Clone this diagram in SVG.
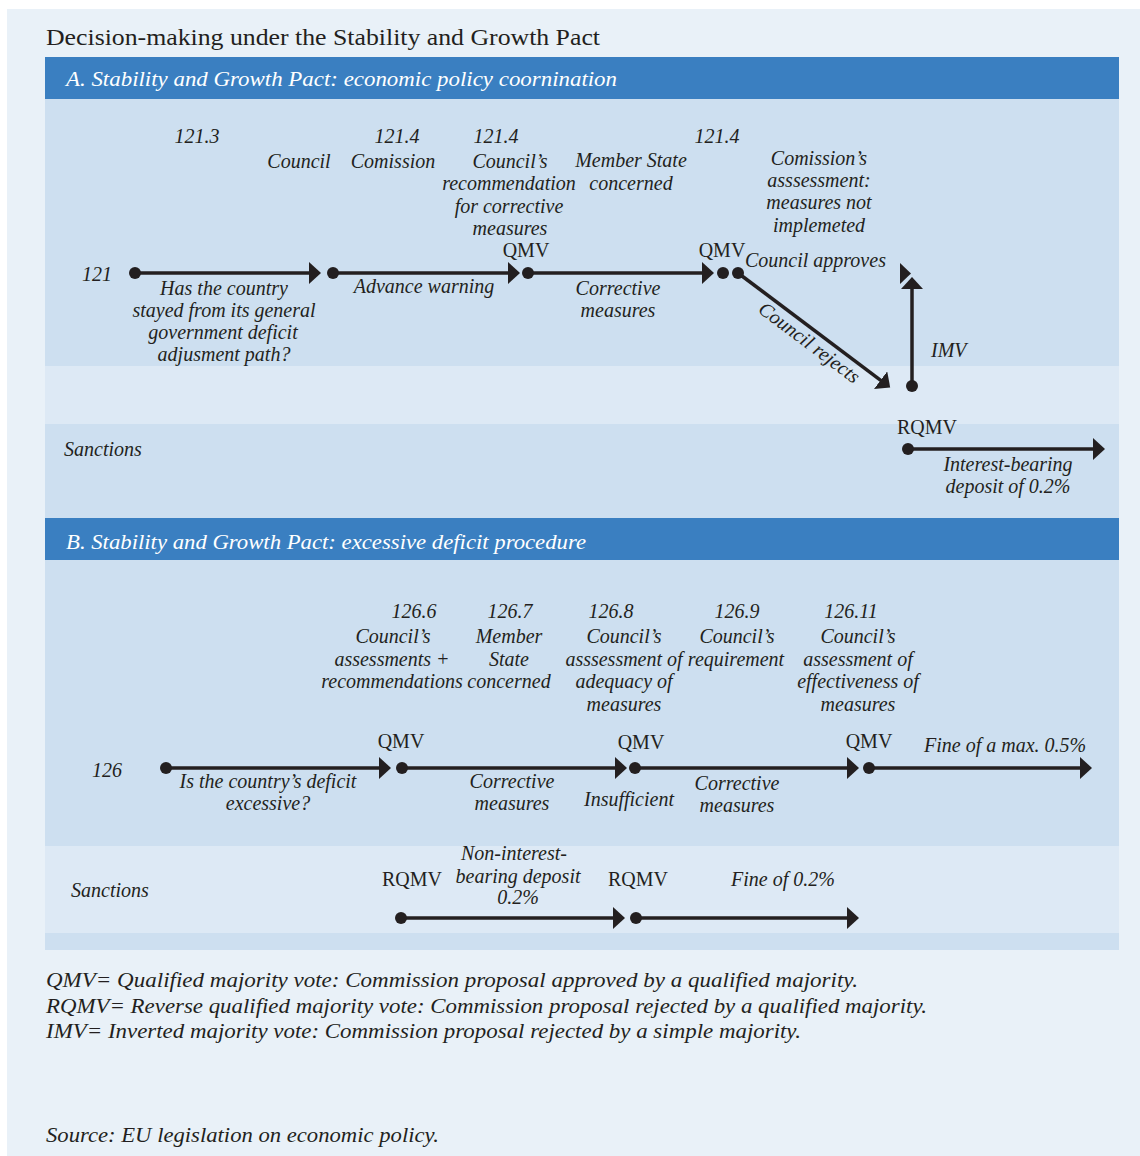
<svg xmlns="http://www.w3.org/2000/svg" width="1140" height="1156" viewBox="0 0 1140 1156">
<defs>
<style>
.t{font-family:"Liberation Serif","Times New Roman",serif;font-style:italic;font-size:20px;fill:#231f20}
.r{font-style:normal}
.m{text-anchor:middle}
.h{font-family:"Liberation Serif","Times New Roman",serif;font-style:italic;font-size:22px;fill:#ffffff}
.ln{stroke:#231f20;stroke-width:3.5;fill:none}
.dot{fill:#231f20}
.bgm{fill:#cddff0}
.bgl{fill:#dde9f5}
.hd{fill:#3a7fc1}
</style>
<marker id="ah" markerUnits="userSpaceOnUse" markerWidth="14" markerHeight="24" refX="1" refY="11" orient="auto">
<path d="M0,0 L12,11 L0,22 Z" fill="#231f20"/>
</marker>
</defs>
<rect x="0" y="0" width="1140" height="1156" fill="#ffffff"/>
<rect x="7" y="9" width="1133" height="1147" fill="#e9f1f8"/>
<text class="t r" x="46" y="45" style="font-size:24px" textLength="554" lengthAdjust="spacingAndGlyphs">Decision-making under the Stability and Growth Pact</text>

<g id="panelA">
<rect class="hd" x="45" y="57" width="1074" height="42"/>
<text class="h" x="66" y="86" textLength="551" lengthAdjust="spacingAndGlyphs">A. Stability and Growth Pact: economic policy coornination</text>
<rect class="bgm" x="45" y="99" width="1074" height="267"/>
<rect class="bgl" x="45" y="366" width="1074" height="58"/>
<rect class="bgm" x="45" y="424" width="1074" height="94"/>
</g>
<g id="panelB">
<rect class="hd" x="45" y="518" width="1074" height="42"/>
<text class="h" x="66" y="549" textLength="520" lengthAdjust="spacingAndGlyphs">B. Stability and Growth Pact: excessive deficit procedure</text>
<rect class="bgm" x="45" y="560" width="1074" height="286"/>
<rect class="bgl" x="45" y="846" width="1074" height="87"/>
<rect class="bgm" x="45" y="933" width="1074" height="17"/>
</g>

<g id="connectors">
<line class="ln" x1="135" y1="273" x2="310" y2="273" marker-end="url(#ah)"/>
<line class="ln" x1="333" y1="273" x2="509" y2="273" marker-end="url(#ah)"/>
<line class="ln" x1="528" y1="273" x2="703" y2="273" marker-end="url(#ah)"/>
<line class="ln" x1="738" y1="273" x2="881.4" y2="380.8" marker-end="url(#ah)"/>
<line class="ln" x1="912" y1="386" x2="912" y2="288" marker-end="url(#ah)"/>
<polygon points="900,263 900,284 911,273.5" fill="#231f20"/>
<line class="ln" x1="908" y1="449" x2="1094" y2="449" marker-end="url(#ah)"/>
<line class="ln" x1="166" y1="768" x2="380" y2="768" marker-end="url(#ah)"/>
<line class="ln" x1="402" y1="768" x2="616" y2="768" marker-end="url(#ah)"/>
<line class="ln" x1="635" y1="768" x2="848" y2="768" marker-end="url(#ah)"/>
<line class="ln" x1="869" y1="768" x2="1081" y2="768" marker-end="url(#ah)"/>
<line class="ln" x1="401" y1="918" x2="614" y2="918" marker-end="url(#ah)"/>
<line class="ln" x1="636" y1="918" x2="848" y2="918" marker-end="url(#ah)"/>
</g>

<g id="a-start">
<text class="t" x="82" y="281">121</text>
<circle class="dot" cx="135" cy="273" r="6"/>
<text class="t m" x="197" y="143">121.3</text>
<text class="t m" x="224" y="295">Has the country</text>
<text class="t m" x="224" y="317">stayed from its general</text>
<text class="t m" x="223" y="339">government deficit</text>
<text class="t m" x="224" y="361">adjusment path?</text>
</g>
<g id="a-council">
<text class="t m" x="299" y="168">Council</text>
</g>
<g id="a-commission">
<circle class="dot" cx="333" cy="273" r="6"/>
<text class="t m" x="397" y="143">121.4</text>
<text class="t m" x="393" y="168">Comission</text>
<text class="t m" x="424" y="293">Advance warning</text>
</g>
<g id="a-recommendation">
<circle class="dot" cx="528" cy="273" r="6"/>
<text class="t m" x="496" y="143">121.4</text>
<text class="t m" x="510" y="168">Council’s</text>
<text class="t m" x="509" y="190">recommendation</text>
<text class="t m" x="509" y="213">for corrective</text>
<text class="t m" x="510" y="235">measures</text>
<text class="t r m" x="526" y="257">QMV</text>
<text class="t m" x="618" y="295">Corrective</text>
<text class="t m" x="618" y="317">measures</text>
</g>
<g id="a-member">
<text class="t m" x="631" y="167">Member State</text>
<text class="t m" x="631" y="190">concerned</text>
</g>
<g id="a-assessment">
<circle class="dot" cx="723" cy="273" r="6"/>
<circle class="dot" cx="738" cy="273" r="6"/>
<text class="t m" x="717" y="143">121.4</text>
<text class="t m" x="819" y="165">Comission’s</text>
<text class="t m" x="819" y="187">asssessment:</text>
<text class="t m" x="819" y="209">measures not</text>
<text class="t m" x="819" y="232">implemeted</text>
<text class="t r m" x="722" y="257">QMV</text>
<text class="t" x="745" y="267">Council approves</text>
<text class="t m" transform="translate(809,343) rotate(37)" x="0" y="6">Council rejects</text>
</g>
<g id="a-imv">
<circle class="dot" cx="912" cy="386" r="6"/>
<text class="t" x="931" y="357">IMV</text>
</g>
<g id="a-sanctions">
<text class="t" x="64" y="456">Sanctions</text>
<circle class="dot" cx="908" cy="449" r="6"/>
<text class="t r" x="897" y="434">RQMV</text>
<text class="t m" x="1008" y="471">Interest-bearing</text>
<text class="t m" x="1008" y="493">deposit of 0.2%</text>
</g>

<g id="b-start">
<text class="t" x="92" y="777">126</text>
<circle class="dot" cx="166" cy="768" r="6"/>
<text class="t m" x="268" y="788">Is the country’s deficit</text>
<text class="t m" x="268" y="810">excessive?</text>
</g>
<g id="b-126-6">
<circle class="dot" cx="402" cy="768" r="6"/>
<text class="t m" x="414" y="618">126.6</text>
<text class="t m" x="393" y="643">Council’s</text>
<text class="t m" x="392" y="666">assessments +</text>
<text class="t m" x="392" y="688">recommendations</text>
<text class="t r m" x="401" y="748">QMV</text>
<text class="t m" x="512" y="788">Corrective</text>
<text class="t m" x="512" y="810">measures</text>
</g>
<g id="b-126-7">
<text class="t m" x="510" y="618">126.7</text>
<text class="t m" x="509" y="643">Member</text>
<text class="t m" x="509" y="666">State</text>
<text class="t m" x="509" y="688">concerned</text>
</g>
<g id="b-126-8">
<circle class="dot" cx="635" cy="768" r="6"/>
<text class="t m" x="611" y="618">126.8</text>
<text class="t m" x="624" y="643">Council’s</text>
<text class="t m" x="624" y="666">asssessment of</text>
<text class="t m" x="624" y="688">adequacy of</text>
<text class="t m" x="624" y="711">measures</text>
<text class="t r m" x="641" y="749">QMV</text>
<text class="t m" x="629" y="806">Insufficient</text>
<text class="t m" x="737" y="790">Corrective</text>
<text class="t m" x="737" y="812">measures</text>
</g>
<g id="b-126-9">
<text class="t m" x="737" y="618">126.9</text>
<text class="t m" x="737" y="643">Council’s</text>
<text class="t m" x="736" y="666">requirement</text>
</g>
<g id="b-126-11">
<circle class="dot" cx="869" cy="768" r="6"/>
<text class="t m" x="851" y="618">126.11</text>
<text class="t m" x="858" y="643">Council’s</text>
<text class="t m" x="858" y="666">assessment of</text>
<text class="t m" x="858" y="688">effectiveness of</text>
<text class="t m" x="858" y="711">measures</text>
<text class="t r m" x="869" y="748">QMV</text>
<text class="t" x="924" y="752">Fine of a max. 0.5%</text>
</g>
<g id="b-sanctions">
<text class="t" x="71" y="897">Sanctions</text>
<circle class="dot" cx="401" cy="918" r="6"/>
<circle class="dot" cx="636" cy="918" r="6"/>
<text class="t r m" x="412" y="886">RQMV</text>
<text class="t m" x="514" y="860">Non-interest-</text>
<text class="t m" x="518" y="883">bearing deposit</text>
<text class="t m" x="518" y="904">0.2%</text>
<text class="t r m" x="638" y="886">RQMV</text>
<text class="t m" x="783" y="886">Fine of 0.2%</text>
</g>

<g id="legend">
<text class="t" x="46" y="987" style="font-size:21px" textLength="812" lengthAdjust="spacingAndGlyphs">QMV= Qualified majority vote: Commission proposal approved by a qualified majority.</text>
<text class="t" x="46" y="1013" style="font-size:21px" textLength="881" lengthAdjust="spacingAndGlyphs">RQMV= Reverse qualified majority vote: Commission proposal rejected by a qualified majority.</text>
<text class="t" x="46" y="1038" style="font-size:21px" textLength="755" lengthAdjust="spacingAndGlyphs">IMV= Inverted majority vote: Commission proposal rejected by a simple majority.</text>
<text class="t" x="46" y="1142" style="font-size:21px" textLength="393" lengthAdjust="spacingAndGlyphs">Source: EU legislation on economic policy.</text>
</g>
</svg>
